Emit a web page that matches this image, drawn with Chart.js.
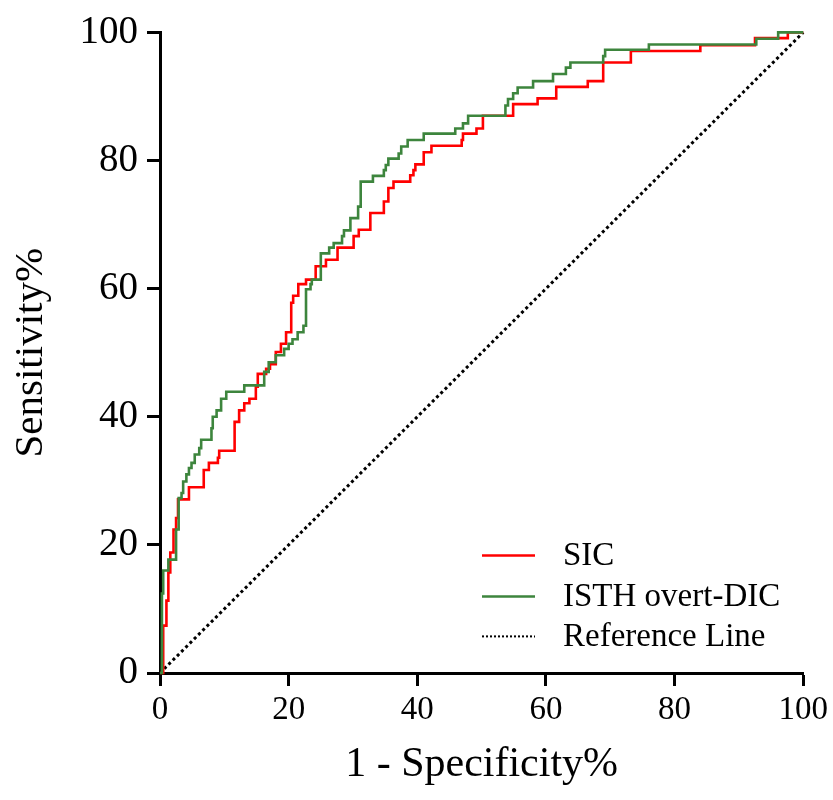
<!DOCTYPE html>
<html>
<head>
<meta charset="utf-8">
<script src="https://cdn.jsdelivr.net/npm/chart.js@4.4.0/dist/chart.umd.min.js"></script>
<style>
  html, body { margin: 0; padding: 0; background: #fff; }
  #wrap { width: 833px; height: 800px; }
</style>
</head>
<body>
<div id="wrap"><canvas id="roc" width="833" height="800"></canvas></div>
<script>
// ROC points: x = 1 - specificity (%), y = sensitivity (%), top of each vertical rise
const sicX = [0, 0.5, 1.0, 1.3, 1.6, 2.1, 2.5, 2.8, 4.5, 6.8, 7.6, 9.0, 9.2, 11.6, 12.3, 13.1, 13.9, 14.9, 15.2,
  16.5, 17.1, 18.0, 18.8, 19.6, 20.4, 20.7, 21.5, 22.7, 24.2, 25.8, 27.6, 30.1, 30.9, 32.7, 34.8, 35.5, 36.3,
  38.9, 39.4, 39.7, 41.0, 42.2, 46.9, 47.1, 49.2, 50.2, 54.9, 58.7, 61.6, 66.5, 68.9, 73.2, 84.0, 92.5, 97.6, 100];
const sicY = [0, 7.4, 11.3, 15.7, 18.8, 22.4, 24.2, 27.1, 29.0, 31.7, 32.8, 33.6, 34.7, 39.2, 41.0, 42.1, 42.8, 44.7, 46.7,
  47.5, 48.2, 50.1, 51.4, 53.2, 57.8, 58.9, 60.7, 61.4, 63.5, 64.5, 66.4, 68.2, 69.2, 71.8, 73.6, 75.7, 76.7,
  77.7, 78.5, 79.4, 81.3, 82.3, 83.2, 84.2, 85.0, 87.0, 88.8, 89.7, 91.5, 92.4, 95.3, 97.1, 98.0, 99.1, 100, 100];

const isthX = [0, 0.3, 0.5, 1.3, 2.5, 2.9, 3.35, 3.6, 4.1, 4.5, 4.9, 5.4, 6.1, 6.4, 8.0, 8.2, 8.8, 9.5, 10.3, 13.1,
  16.2, 16.9, 18.0, 19.3, 20.0, 20.6, 21.4, 22.3, 22.7, 23.4, 23.6, 25.0, 26.3, 27.0, 28.3, 28.6, 29.6, 30.8, 31.2,
  33.1, 34.8, 35.1, 35.5, 37.1, 37.5, 38.5, 41.0, 45.9, 47.1, 47.9, 53.7, 54.1, 54.9, 55.6, 58.0, 61.1, 63.1, 63.8,
  68.9, 69.2, 76.0, 92.7, 96.1, 100];
const isthY = [0, 12.4, 16.0, 17.7, 22.4, 27.3, 28.1, 29.9, 31.0, 32.0, 32.8, 34.1, 35.1, 36.4, 38.2, 40.0, 41.0, 42.8, 43.9, 44.9,
  47.0, 48.5, 49.6, 50.6, 51.4, 52.1, 53.2, 54.2, 59.9, 60.7, 61.4, 65.5, 66.4, 67.1, 68.2, 69.1, 71.0, 72.8, 76.7,
  77.6, 78.5, 79.3, 80.3, 81.1, 82.2, 83.2, 84.2, 85.0, 85.8, 87.0, 88.6, 89.6, 90.5, 91.4, 92.4, 93.5, 94.5, 95.3,
  96.3, 97.3, 98.1, 99.0, 100, 100];

const refX = [0, 100];
const refY = [0, 100];

const tickValues = [0, 20, 40, 60, 80, 100];
const legendLabels = ['SIC', 'ISTH overt-DIC', 'Reference Line'];

const RED = '#ff0000';
const GREEN = '#3d853d';
const SERIF = "'Liberation Serif', 'DejaVu Serif', serif";

function toPoints(xs, ys) {
    return xs.map((x, i) => ({ x: x, y: ys[i] }));
}

// Legend drawn inside the plot area (lower right)
const rocLegend = {
    id: 'rocLegend',
    afterDraw(chart) {
        const ctx = chart.ctx;
        const area = chart.chartArea;
        const x0 = area.left + 322;
        const x1 = x0 + 53;
        const tx = area.left + 403;
        const rows = [area.top + 523, area.top + 564, area.top + 604];
        const styles = [
            { color: RED, dash: [], width: 2.5 },
            { color: GREEN, dash: [], width: 2.5 },
            { color: '#000', dash: [2, 2], width: 2 }
        ];
        ctx.save();
        ctx.font = '33px ' + SERIF;
        ctx.textBaseline = 'middle';
        ctx.fillStyle = '#000';
        rows.forEach((y, i) => {
            ctx.beginPath();
            ctx.setLineDash(styles[i].dash);
            ctx.strokeStyle = styles[i].color;
            ctx.lineWidth = styles[i].width;
            ctx.moveTo(x0, y);
            ctx.lineTo(x1, y);
            ctx.stroke();
            ctx.setLineDash([]);
            ctx.fillText(legendLabels[i], tx, y + 1);
        });
        ctx.restore();
    }
};

const ctx = document.getElementById('roc').getContext('2d');
new Chart(ctx, {
    type: 'line',
    data: {
        datasets: [
            {
                label: legendLabels[1],
                data: toPoints(isthX, isthY),
                borderColor: GREEN,
                borderWidth: 2.6,
                stepped: 'before',
                pointRadius: 0,
                fill: false,
                clip: 4,
                order: 0
            },
            {
                label: legendLabels[0],
                data: toPoints(sicX, sicY),
                borderColor: RED,
                borderWidth: 2.6,
                stepped: 'before',
                pointRadius: 0,
                fill: false,
                clip: 4,
                order: 1
            },
            {
                label: legendLabels[2],
                data: toPoints(refX, refY),
                borderColor: '#000',
                borderWidth: 3,
                borderDash: [3, 3],
                pointRadius: 0,
                fill: false,
                clip: 4,
                order: 2
            }
        ]
    },
    options: {
        responsive: false,
        animation: false,
        layout: {
            padding: { top: 28, right: 26, bottom: 0, left: 0 }
        },
        plugins: {
            legend: { display: false },
            tooltip: { enabled: false }
        },
        scales: {
            x: {
                type: 'linear',
                min: 0,
                max: 100,
                afterFit: (scale) => { scale.height = 127; },
                afterBuildTicks: (scale) => { scale.ticks = tickValues.map(v => ({ value: v })); },
                ticks: {
                    color: '#000',
                    padding: 5,
                    font: { family: SERIF, size: 33 }
                },
                grid: {
                    drawOnChartArea: false,
                    tickLength: 13,
                    tickWidth: 3,
                    tickColor: '#000'
                },
                border: { display: true, color: '#000', width: 3 },
                title: {
                    display: true,
                    text: '1 - Specificity%',
                    color: '#000',
                    font: { family: SERIF, size: 42 },
                    padding: { top: 0, bottom: 10 }
                }
            },
            y: {
                type: 'linear',
                min: 0,
                max: 100,
                afterFit: (scale) => { scale.width = 160; },
                afterBuildTicks: (scale) => { scale.ticks = tickValues.map(v => ({ value: v })); },
                ticks: {
                    color: '#000',
                    padding: 9,
                    font: { family: SERIF, size: 39 }
                },
                grid: {
                    drawOnChartArea: false,
                    tickLength: 13,
                    tickWidth: 3,
                    tickColor: '#000'
                },
                border: { display: true, color: '#000', width: 3 },
                title: {
                    display: true,
                    text: 'Sensitivity%',
                    color: '#000',
                    font: { family: SERIF, size: 41 },
                    padding: { top: 7, bottom: 0 }
                }
            }
        }
    },
    plugins: [rocLegend]
});
</script>
</body>
</html>
